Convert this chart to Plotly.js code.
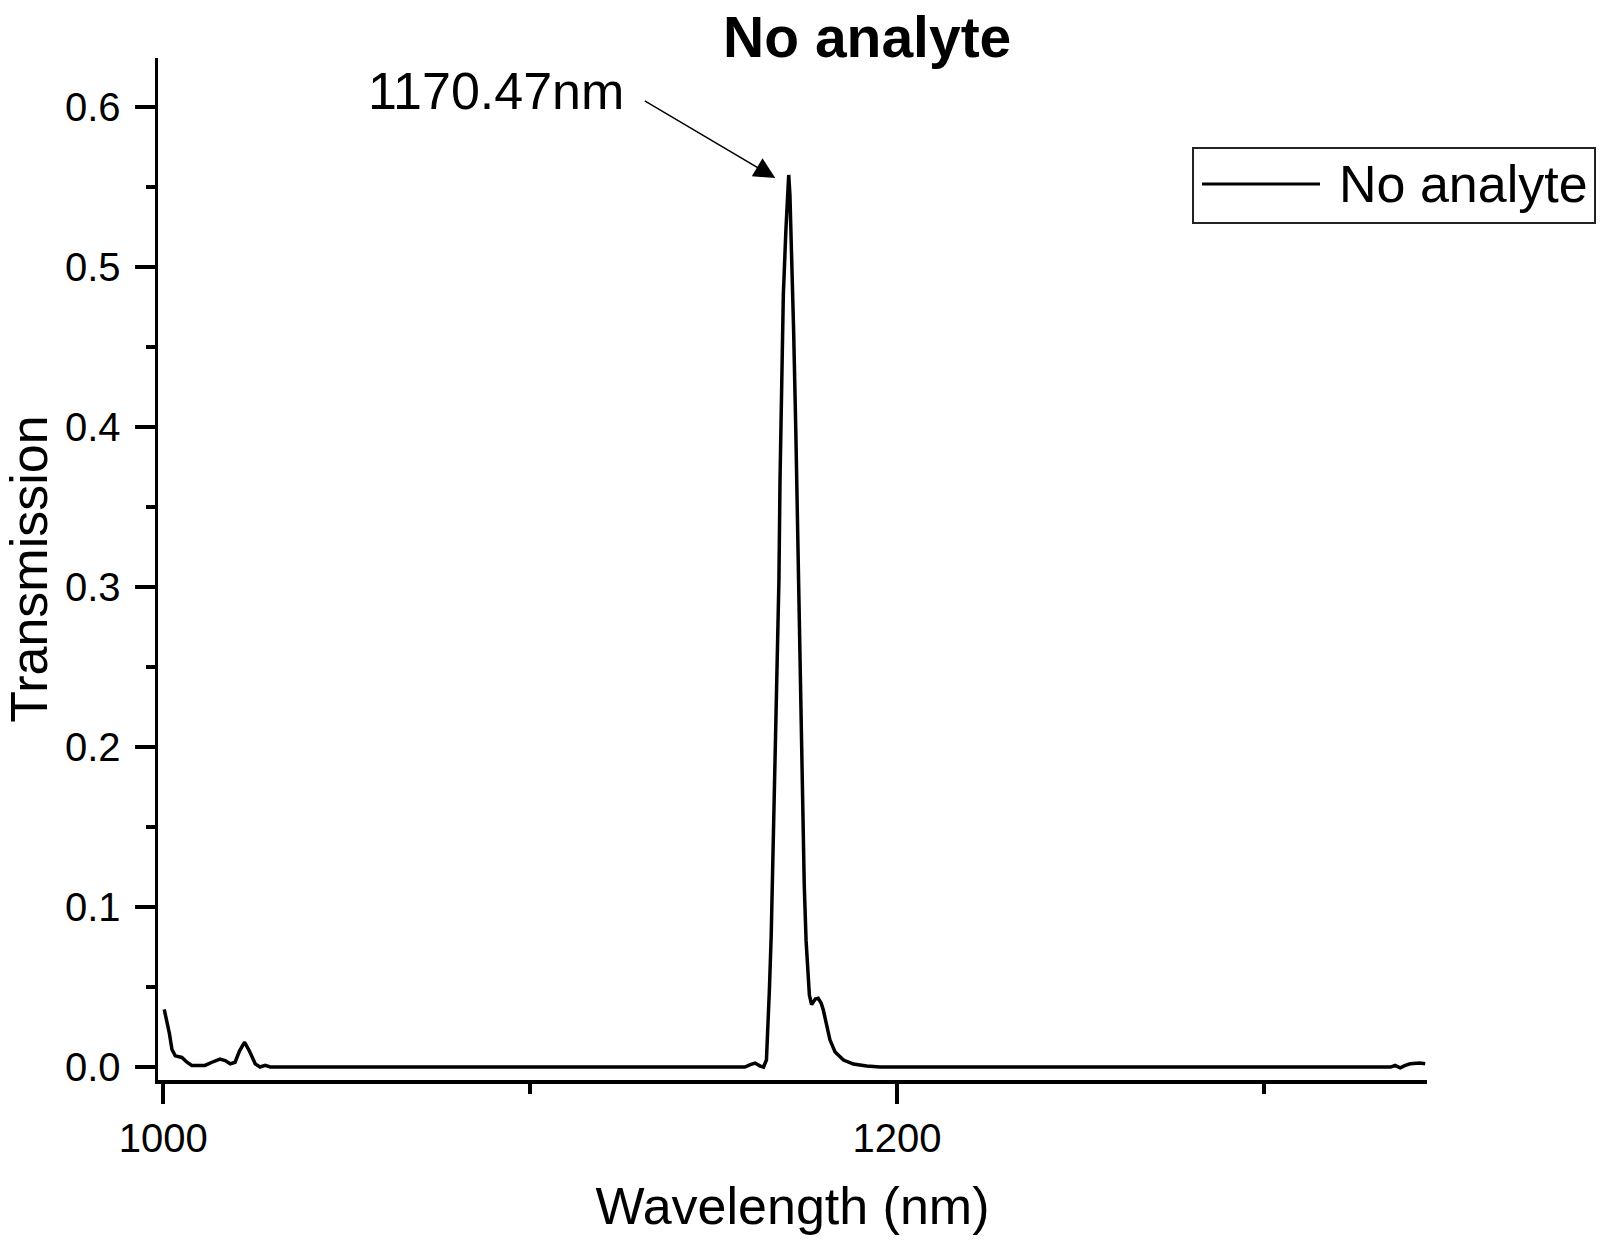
<!DOCTYPE html>
<html>
<head>
<meta charset="utf-8">
<script src="https://cdn.plot.ly/plotly-3.0.1.min.js"></script>
<style>
  html, body { margin: 0; padding: 0; background: #fff; }
</style>
</head>
<body>
<div id="spectrum"></div>
<script>
// Spectrum
const seriesName = 'No analyte';
const wavelength = [
  1000.3, 1001.0, 1001.7, 1002.4, 1003.3, 1005.1, 1006.5, 1007.8, 1011.4, 1013.3,
  1015.5, 1016.9, 1018.3, 1019.6, 1020.8, 1022.2, 1023.5, 1025.1, 1026.4, 1027.8,
  1029.2, 1060, 1100, 1140, 1158.5, 1160.0, 1161.3, 1162.7, 1163.6, 1164.4,
  1164.8, 1165.2, 1165.7, 1166.1, 1166.6, 1167.2, 1167.8, 1168.1, 1168.6, 1169.0,
  1169.7, 1170.1, 1170.47, 1170.8, 1171.4, 1171.8, 1172.4, 1172.9, 1173.4, 1173.8,
  1174.3, 1174.7, 1175.2, 1175.8, 1176.1, 1176.7, 1177.7, 1178.5, 1179.3, 1179.9,
  1180.8, 1181.7, 1183.1, 1185.4, 1188.1, 1191.7, 1195.4, 1250, 1300, 1334.5,
  1335.7, 1337.1, 1338.5, 1339.8, 1342.5, 1343.9
];
const transmission = [
  0.036, 0.029, 0.021, 0.011, 0.007, 0.006, 0.003, 0.001, 0.001, 0.003,
  0.005, 0.004, 0.002, 0.003, 0.010, 0.0155, 0.010, 0.002, 0.0, 0.001,
  0.0, 0.0, 0.0, 0.0, 0.0, 0.0015, 0.0025, 0.0006, 0.0, 0.0044,
  0.023, 0.048, 0.0825, 0.126, 0.176, 0.236, 0.304, 0.367, 0.429, 0.4825,
  0.523, 0.548, 0.5575, 0.545, 0.504, 0.461, 0.398, 0.3325, 0.267, 0.2075,
  0.1575, 0.114, 0.079, 0.0575, 0.045, 0.039, 0.0425, 0.043, 0.040, 0.0356,
  0.025, 0.017, 0.0094, 0.0044, 0.0019, 0.0006, 0.0, 0.0, 0.0, 0.0,
  0.001, -0.0005, 0.001, 0.002, 0.0025, 0.002
];
const peakLabel = '1170.47nm';
const peakWavelength = 1166.8;   // where the arrow head sits
const peakTransmission = 0.5556;

const font = 'Liberation Sans, Arial, sans-serif';

const trace = {
  name: seriesName,
  mode: 'lines',
  x: wavelength,
  y: transmission,
  line: { color: 'black', width: 3.5 },
  showlegend: false,
};

const axisBase = {
  showline: true,
  linecolor: 'black',
  linewidth: 3.5,
  ticks: 'outside',
  ticklen: 20,
  tickwidth: 3.5,
  tickcolor: 'black',
  showgrid: false,
  zeroline: false,
  tickfont: { family: font, size: 40, color: 'black' },
};

const layout = {
  width: 1600,
  height: 1244,
  margin: { l: 158, r: 173, t: 58, b: 164, pad: 0 },
  paper_bgcolor: 'white',
  plot_bgcolor: 'white',
  font: { family: font, color: 'black' },
  title: {
    text: seriesName,
    font: { family: font, size: 57, weight: 'bold', color: 'black' },
    xref: 'container', x: 0.542, xanchor: 'center',
    yref: 'container', y: 0.986, yanchor: 'top',
    pad: { t: 0, b: 0 },
  },
  xaxis: Object.assign({}, axisBase, {
    range: [998.6, 1344.4],
    tick0: 1000,
    dtick: 200,
    minor: { tick0: 1000, dtick: 100, ticks: 'outside', ticklen: 10, tickwidth: 3.5, tickcolor: 'black', showgrid: false },
    title: { text: 'Wavelength (nm)', font: { family: font, size: 52, color: 'black' }, standoff: 30 },
  }),
  yaxis: Object.assign({}, axisBase, {
    range: [-0.0081, 0.6306],
    tick0: 0,
    dtick: 0.1,
    tickformat: '.1f',
    ticklabelstandoff: 6,
    minor: { tick0: 0, dtick: 0.05, ticks: 'outside', ticklen: 9, tickwidth: 3.5, tickcolor: 'black', showgrid: false },
    title: { text: 'Transmission', font: { family: font, size: 52, color: 'black' }, standoff: 16 },
  }),
  annotations: [
    {
      // arrow only
      x: peakWavelength, y: peakTransmission, xref: 'x', yref: 'y',
      text: '', showarrow: true,
      ax: -132, ay: -78,
      arrowhead: 2, arrowsize: 3, arrowwidth: 1.4, arrowcolor: 'black',
    },
    {
      x: 1090.7, y: 0.61, xref: 'x', yref: 'y',
      text: peakLabel, showarrow: false,
      xanchor: 'center', yanchor: 'middle',
      font: { family: font, size: 52, color: 'black' },
    },
    {
      // legend label
      x: 0.9291, y: 0.8767, xref: 'paper', yref: 'paper',
      text: seriesName, showarrow: false,
      xanchor: 'left', yanchor: 'middle',
      font: { family: font, size: 52, color: 'black' },
    },
  ],
  shapes: [
    // legend box and sample line
    { type: 'rect', xref: 'paper', yref: 'paper', x0: 0.8156, x1: 1.1324, y0: 0.8386, y1: 0.9119,
      line: { color: '#222', width: 2 }, fillcolor: 'white', layer: 'above' },
    { type: 'line', xref: 'paper', yref: 'paper', x0: 0.8227, x1: 0.9157, y0: 0.8767, y1: 0.8767,
      line: { color: 'black', width: 3 }, layer: 'above' },
  ],
};

Plotly.newPlot('spectrum', [trace], layout, { displayModeBar: false, staticPlot: true });
</script>
</body>
</html>
